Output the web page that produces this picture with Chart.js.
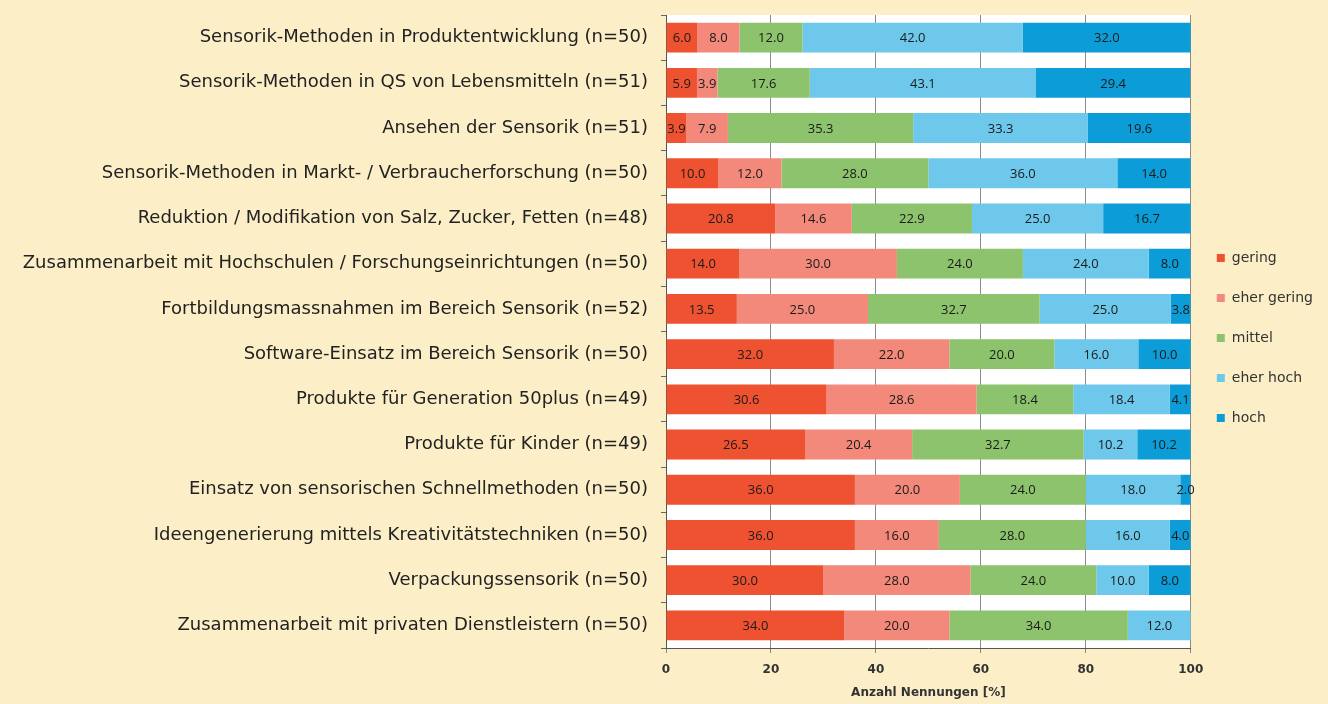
<!DOCTYPE html>
<html>
<head>
<meta charset="utf-8">
<script src="https://cdn.jsdelivr.net/npm/chart.js@4.4.1/dist/chart.umd.min.js"></script>
<style>
  html, body { margin: 0; padding: 0; background: #FCEFC8; }
  #wrap { width: 1328px; height: 704px; }
</style>
</head>
<body>
<div id="wrap"><canvas id="chart" width="1328" height="704"></canvas></div>
<script>
const categories = [
    'Sensorik-Methoden in Produktentwicklung (n=50)',
    'Sensorik-Methoden in QS von Lebensmitteln (n=51)',
    'Ansehen der Sensorik (n=51)',
    'Sensorik-Methoden in Markt- / Verbraucherforschung (n=50)',
    'Reduktion / Modifikation von Salz, Zucker, Fetten (n=48)',
    'Zusammenarbeit mit Hochschulen / Forschungseinrichtungen (n=50)',
    'Fortbildungsmassnahmen im Bereich Sensorik (n=52)',
    'Software-Einsatz im Bereich Sensorik (n=50)',
    'Produkte für Generation 50plus (n=49)',
    'Produkte für Kinder (n=49)',
    'Einsatz von sensorischen Schnellmethoden (n=50)',
    'Ideengenerierung mittels Kreativitätstechniken (n=50)',
    'Verpackungssensorik (n=50)',
    'Zusammenarbeit mit privaten Dienstleistern (n=50)'
];

const gering      = [6.0, 5.9, 3.9, 10.0, 20.8, 14.0, 13.5, 32.0, 30.6, 26.5, 36.0, 36.0, 30.0, 34.0];
const eherGering  = [8.0, 3.9, 7.9, 12.0, 14.6, 30.0, 25.0, 22.0, 28.6, 20.4, 20.0, 16.0, 28.0, 20.0];
const mittel      = [12.0, 17.6, 35.3, 28.0, 22.9, 24.0, 32.7, 20.0, 18.4, 32.7, 24.0, 28.0, 24.0, 34.0];
const eherHoch    = [42.0, 43.1, 33.3, 36.0, 25.0, 24.0, 25.0, 16.0, 18.4, 10.2, 18.0, 16.0, 10.0, 12.0];
const hoch        = [32.0, 29.4, 19.6, 14.0, 16.7, 8.0, 3.8, 10.0, 4.1, 10.2, 2.0, 4.0, 8.0, 0];

const xTicks = [0, 20, 40, 60, 80, 100];

// cream page, white plot area
const backgroundPlugin = {
    id: 'background',
    beforeDraw(chart) {
        const { ctx, chartArea } = chart;
        ctx.save();
        ctx.fillStyle = '#FCEFC8';
        ctx.fillRect(0, 0, chart.width, chart.height);
        ctx.fillStyle = '#FFFFFF';
        ctx.fillRect(chartArea.left, chartArea.top, chartArea.right - chartArea.left, chartArea.bottom - chartArea.top);
        ctx.restore();
    }
};

// value labels in the middle of each segment
const valueLabels = {
    id: 'valueLabels',
    afterDatasetsDraw(chart) {
        const { ctx } = chart;
        ctx.save();
        ctx.font = '13px "Open Sans"';
        ctx.fillStyle = '#1a1a1a';
        ctx.textAlign = 'center';
        ctx.textBaseline = 'middle';
        chart.data.datasets.forEach((ds, i) => {
            chart.getDatasetMeta(i).data.forEach((bar, j) => {
                const v = ds.data[j];
                if (!v) return;
                ctx.fillText(v.toFixed(1), (bar.x + bar.base) / 2, bar.y + 1);
            });
        });
        ctx.restore();
    }
};

const ctx = document.getElementById('chart').getContext('2d');

new Chart(ctx, {
    type: 'bar',
    data: {
        labels: categories,
        datasets: [
            { label: 'gering', data: gering, backgroundColor: '#EE5230' },
            { label: 'eher gering', data: eherGering, backgroundColor: '#F2897A' },
            { label: 'mittel', data: mittel, backgroundColor: '#8DC36C' },
            { label: 'eher hoch', data: eherHoch, backgroundColor: '#6DC8EC' },
            { label: 'hoch', data: hoch, backgroundColor: '#0C9DD8' }
        ]
    },
    options: {
        indexAxis: 'y',
        responsive: false,
        animation: false,
        datasets: {
            bar: { barPercentage: 0.66, categoryPercentage: 1, borderWidth: 0 }
        },
        layout: { padding: { top: 15, left: 0, right: 5, bottom: 0 } },
        plugins: {
            tooltip: { enabled: false },
            legend: {
                position: 'right',
                fullSize: false,
                title: { display: true, text: '', font: { size: 11 }, padding: 0 },
                labels: {
                    boxWidth: 8,
                    boxHeight: 8,
                    padding: 26,
                    color: '#333',
                    font: { family: 'DejaVu Sans', size: 14 }
                }
            }
        },
        scales: {
            x: {
                stacked: true,
                min: 0,
                max: 100,
                z: 1,
                afterBuildTicks: (scale) => {
                    scale.ticks = xTicks.map(v => ({ value: v }));
                },
                afterFit: (scale) => { scale.height = 56; },
                grid: { color: 'rgba(90,90,90,0.7)', lineWidth: 1, tickLength: 5, drawTicks: true },
                border: { color: '#555', width: 1 },
                ticks: {
                    padding: 10,
                    color: '#333',
                    font: { family: 'DejaVu Sans', size: 12, weight: 'bold' }
                },
                title: {
                    display: true,
                    text: 'Anzahl Nennungen [%]',
                    color: '#333',
                    padding: { top: 0, bottom: 4 },
                    font: { family: 'DejaVu Sans', size: 12, weight: 'bold' }
                }
            },
            y: {
                stacked: true,
                afterFit: (scale) => {
                    scale.width = 666;
                    scale.paddingTop = 0;
                    scale.paddingBottom = 0;
                },
                grid: { drawOnChartArea: false, drawTicks: true, tickLength: 5, color: '#666' },
                border: { color: '#555', width: 1 },
                ticks: {
                    padding: 13,
                    color: '#222',
                    autoSkip: false,
                    font: { family: 'DejaVu Sans', size: 18 }
                }
            }
        }
    },
    plugins: [backgroundPlugin, valueLabels]
});
</script>
</body>
</html>
